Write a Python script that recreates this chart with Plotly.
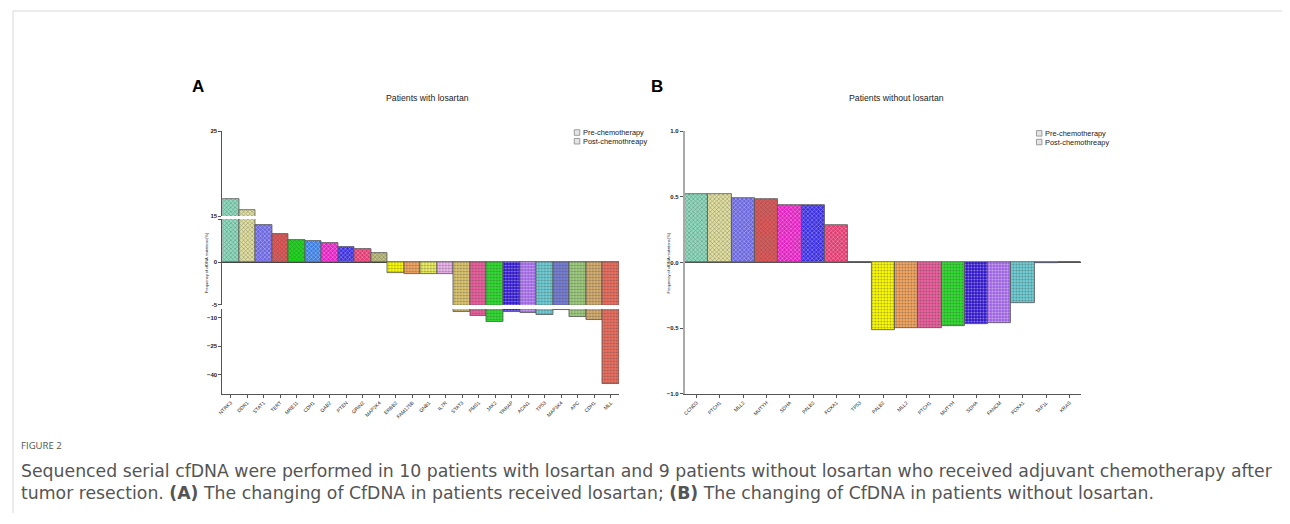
import plotly.graph_objects as go

OFF_X, OFF_Y = 11.5, 7.5      # page body margin in the browser (measured)
W, H = 1290 - 16, 524 - 16

genes_a = ["NTRK3", "DDR1", "STAT1", "TERT", "MRE11", "CDH1", "GAB2", "PTEN", "GRIN2", "MAP2K4",
           "ERBB2", "FAM175B", "GNB1", "IL7R", "STAT3", "PMS1", "JAK2", "TRRAP", "ACIN1", "TP53",
           "MAP3K4", "APC", "CDH1", "MLL"]
values_a = [17.0, 15.7, 4.3, 3.2, 2.6, 2.4, 2.2, 1.8, 1.55, 1.1,
            -1.25, -1.35, -1.35, -1.4, -6.9, -9.0, -12.2, -7.0, -7.6, -8.6,
            -5.9, -9.6, -11.4, -44.9]
colors_a = ["#8fdcc0", "#e2e0a0", "#6a66dd", "#e05a5a", "#1ed81e", "#3a7de0", "#e020c0", "#3a2ee0",
            "#e03a70", "#c0c080", "#ffff00", "#f8a860", "#eef060", "#f0b8f0", "#e0c870", "#f060a0",
            "#30e030", "#2a10c8", "#9a60e0", "#70d0d8", "#7880d8", "#a0d080", "#d8b070", "#f07060"]

genes_b = ["CCND3", "PTCH1", "MLL2", "MUTYH", "SDHA", "PALB2", "FOXA1", "TP53", "PALB2", "MLL2",
           "PTCH1", "MUTYH", "SDHA", "FANCM", "FOXA1", "TAF1L", "KRAS"]
values_b = [0.52, 0.52, 0.49, 0.48, 0.44, 0.435, 0.285, 0.005, -0.514, -0.5,
            -0.496, -0.484, -0.466, -0.46, -0.31, -0.005, 0.0]
colors_b = ["#8fdcc0", "#e2e0a0", "#6a66dd", "#e05a5a", "#e020c0", "#3a2ee0", "#e03a70", "#c0c080",
            "#ffff00", "#f8a860", "#f060a0", "#30e030", "#2a10c8", "#9a60e0", "#70d0d8", "#7880d8",
            "#7880d8"]

series_names = ["Pre-chemotherapy", "Post-chemothreapy"]

FONT = "Liberation Sans"


def px_x(p):
    return (p - OFF_X) / W


def px_y(p):
    return 1 - (p - OFF_Y) / H


def patt(vals):
    return dict(shape=["x" if v >= 0 else "." for v in vals],
                fgcolor=["rgba(255,255,255,0.55)" if v >= 0 else "rgba(0,0,0,0.45)" for v in vals],
                size=3, solidity=0.35, fillmode="overlay")


fig = go.Figure()

xa = list(range(len(genes_a)))
for yax in ["y", "y2", "y3"]:
    fig.add_trace(go.Bar(x=xa, y=values_a, xaxis="x", yaxis=yax,
                         marker=dict(color=colors_a, line=dict(color="#555", width=0.8),
                                     pattern=patt(values_a)),
                         width=1, showlegend=False,
                         customdata=genes_a, hovertemplate="%{customdata}: %{y}<extra></extra>"))

xb = list(range(len(genes_b)))
fig.add_trace(go.Bar(x=xb, y=values_b, xaxis="x2", yaxis="y4",
                     marker=dict(color=colors_b, line=dict(color="#555", width=0.8),
                                 pattern=patt(values_b)),
                     width=1, showlegend=False,
                     customdata=genes_b, hovertemplate="%{customdata}: %{y}<extra></extra>"))

ax_common = dict(showline=True, linecolor="#555", linewidth=1, ticks="outside", ticklen=3,
                 tickcolor="#555", showgrid=False, zeroline=False,
                 tickfont=dict(family=FONT, size=6, color="#222", weight="bold"))

dA = [px_x(221.7), px_x(620)]
dB = [px_x(686), px_x(1084)]

fig.update_layout(
    width=W, height=H, margin=dict(l=0, r=0, t=0, b=0),
    paper_bgcolor="white", plot_bgcolor="white",
    barmode="overlay", bargap=0, showlegend=False,
    xaxis=dict(domain=dA, anchor="y3", range=[-0.5, len(genes_a) - 0.5],
               tickvals=xa, ticktext=genes_a, tickangle=-45, showline=True, linecolor="#555",
               ticks="outside", ticklen=3, tickcolor="#555", showgrid=False, zeroline=False,
               tickfont=dict(family=FONT, size=5, color="#222")),
    yaxis=dict(domain=[px_y(215), px_y(129)], range=[15, 25], anchor="x",
               tickvals=[15, 25], **ax_common),
    yaxis2=dict(domain=[px_y(305), px_y(218)], range=[-5, 5], anchor="x",
                tickvals=[-5, 0, 5], ticktext=["-5", "0", ""],
                **{**ax_common, "zeroline": True, "zerolinecolor": "#444", "zerolinewidth": 1}),
    yaxis3=dict(domain=[px_y(395), px_y(309)], range=[-50, -5.5], anchor="x",
                tickvals=[-10, -25, -40], **ax_common),
    xaxis2=dict(domain=dB, anchor="y4", range=[-0.5, len(genes_b) - 0.5],
                tickvals=xb, ticktext=genes_b, tickangle=-45, showline=True, linecolor="#555",
                ticks="outside", ticklen=3, tickcolor="#555", showgrid=False, zeroline=False,
                tickfont=dict(family=FONT, size=5, color="#222")),
    yaxis4=dict(domain=[px_y(395), px_y(129)], range=[-1, 1], anchor="x2",
                tickvals=[-1, -0.5, 0, 0.5, 1], tickformat=".1f",
                **{**ax_common, "linecolor": "#aaa", "linewidth": 2, "zeroline": True,
                   "zerolinecolor": "#555", "zerolinewidth": 1}),
)

ann = []


def add_text(text, x, y, size, color="#222", family=FONT, xanchor="left", **kw):
    ann.append(dict(text=text, x=px_x(x), y=px_y(y), xanchor=xanchor, yanchor="middle",
                    font=dict(family=family, size=size, color=color), borderpad=0, **kw))


add_text("<b>A</b>", 190, 84, 17, color="#000")
add_text("<b>B</b>", 651, 84, 17, color="#000")
add_text("Patients with losartan", 428, 96, 8.7, xanchor="center")
add_text("Patients without losartan", 898, 96, 8.7, xanchor="center")
for xp in [206, 670]:
    add_text("Frequency of cfDNA mutations(%)", xp, 262, 4, xanchor="center", textangle=-90)

# manual legends
shapes = []
for lx, ly in [(575, 130.5), (1039, 131.3)]:
    for i, name in enumerate(series_names):
        cy = ly + i * 8.8
        shapes.append(dict(type="rect", xref="paper", yref="paper",
                           x0=px_x(lx), x1=px_x(lx + 5.5), y0=px_y(cy + 2.8), y1=px_y(cy - 2.8),
                           fillcolor="#e4e4e4", line=dict(color="#888", width=0.8)))
        add_text(name, lx + 8, cy, 7.4)

add_text("FIGURE 2", 19, 447, 9.6, color="#555", family="Open Sans")
add_text("Sequenced serial cfDNA were performed in 10 patients with losartan and 9 patients "
         "without losartan who received adjuvant chemotherapy after", 19, 473, 17.3,
         color="#555", family="DejaVu Sans")
add_text("tumor resection. <b>(A)</b> The changing of CfDNA in patients received losartan; "
         "<b>(B)</b> The changing of CfDNA in patients without losartan.", 19, 495, 17.3,
         color="#555", family="DejaVu Sans")
for a in ann:
    a.update(xref="paper", yref="paper", showarrow=False)

# frame of the figure box
shapes.append(dict(type="line", xref="paper", yref="paper", x0=0, x1=1, y0=1, y1=1,
                   line=dict(color="#d8d8d8", width=1)))
shapes.append(dict(type="line", xref="paper", yref="paper", x0=0, x1=0, y0=0, y1=1,
                   line=dict(color="#d8d8d8", width=1)))
fig.update_layout(annotations=ann, shapes=shapes)

fig.write_html("out.html")
